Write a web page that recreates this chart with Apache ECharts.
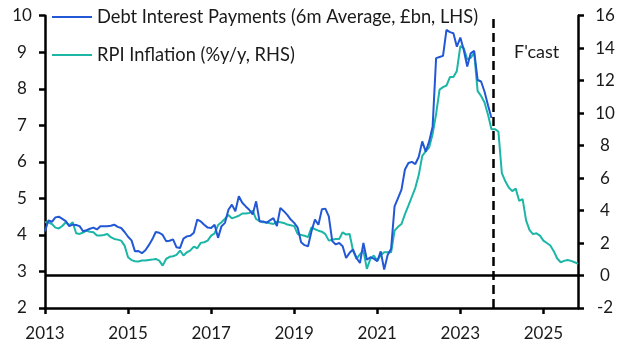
<!DOCTYPE html>
<html><head><meta charset="utf-8">
<script src="https://cdn.jsdelivr.net/npm/echarts@6/dist/echarts.min.js"></script>
<style>html,body{margin:0;padding:0;background:#fff}#c{width:629px;height:355px}</style>
</head><body><div id="c"></div>
<script>
// Monthly data, starting Jan 2013
const startYear = 2013;
const debtInterest = [4.10,4.40,4.36,4.48,4.50,4.44,4.38,4.24,4.28,4.27,4.24,4.10,
4.13,4.17,4.20,4.15,4.24,4.24,4.24,4.25,4.28,4.22,4.19,4.08,
3.95,3.85,3.55,3.56,3.50,3.58,3.72,3.88,4.08,4.06,4.00,3.83,
3.84,3.88,3.66,3.64,3.90,3.96,3.98,4.06,4.42,4.37,4.28,4.20,
4.19,4.28,3.92,4.24,4.33,4.69,4.83,4.65,5.06,4.88,4.78,4.69,
4.56,4.92,4.37,4.37,4.33,4.40,4.46,4.24,4.74,4.65,4.55,4.42,
4.33,4.20,3.80,3.72,3.69,4.10,4.42,4.28,4.70,4.72,4.51,3.83,
3.74,3.78,3.69,3.37,3.51,3.60,3.37,3.23,3.78,3.32,3.39,3.35,
3.28,3.55,3.05,3.45,3.62,4.78,5.01,5.24,5.79,5.97,6.00,5.94,
6.14,6.56,6.28,6.56,6.97,8.84,8.87,8.90,9.61,9.55,9.52,9.15,
9.40,9.06,8.61,8.97,9.04,8.24,8.20,7.92,7.55,7.20];
const rpiInflation = [3.28,3.28,3.17,2.95,2.90,3.05,3.28,3.10,3.28,2.60,2.56,2.65,
2.76,2.70,2.66,2.46,2.46,2.50,2.56,2.36,2.25,2.21,2.15,1.84,
1.13,0.95,0.88,0.86,0.92,0.92,0.96,0.98,1.02,0.92,0.61,1.02,
1.15,1.19,1.27,1.54,1.23,1.43,1.55,1.78,1.68,2.01,2.05,2.15,
2.46,2.60,3.11,3.28,3.50,3.73,3.52,3.60,3.68,3.82,3.82,3.85,
3.99,3.48,3.35,3.28,3.28,3.22,3.17,3.32,3.28,3.24,3.14,3.10,
3.04,2.56,2.50,2.45,2.36,2.97,2.85,2.76,2.70,2.55,2.15,2.20,
2.25,2.25,2.66,2.52,2.56,1.54,1.02,1.30,1.54,0.41,1.02,1.23,
0.92,1.25,1.43,1.43,1.43,2.76,3.00,3.17,3.78,4.30,4.85,5.40,
6.20,7.37,7.65,7.90,8.72,9.94,11.45,11.60,11.70,12.22,12.22,12.60,
14.13,14.00,13.31,13.40,13.72,11.36,11.06,10.65,9.90,9.01,9.01,8.87,
6.30,5.80,5.42,5.20,5.35,4.60,4.70,3.40,2.80,2.55,2.60,2.46,
2.15,2.00,1.85,1.50,1.05,0.82,0.90,0.96,0.90,0.82,0.72];
const seriesNames = ["Debt Interest Payments (6m Average, £bn, LHS)", "RPI Inflation (%y/y, RHS)"];
const forecastStartMonth = 129.5; // months since Jan 2013
const forecastLabel = "F'cast";
const lastMonth = 154;
const leftTicks = {min: 2, max: 10, interval: 1};
const rightTicks = {min: -2, max: 16, interval: 2};

const FONT = 'Lato';
const toPairs = arr => arr.map((v, i) => [i, v]);
const chart = echarts.init(document.getElementById('c'), null, {renderer: 'canvas'});
const axisLine = {show: true, lineStyle: {color: '#000', width: 2.5}};
const labelStyle = {color: '#1a1a1a', fontFamily: FONT, fontSize: 17};
chart.setOption({
  animation: false,
  grid: {left: 45, right: 51, top: 15.7, bottom: 47, containLabel: false},
  legend: {
    orient: 'vertical', left: 52, top: 8, padding: 0, icon: 'rect',
    itemWidth: 40, itemHeight: 2.2, itemGap: 20,
    textStyle: {fontFamily: FONT, fontSize: 18.3, color: '#1a1a1a'},
    data: seriesNames
  },
  xAxis: {
    type: 'value', min: 0, max: lastMonth, interval: 24,
    axisLine: Object.assign({onZero: false}, axisLine),
    axisTick: {show: true, length: 6, lineStyle: {color: '#000', width: 2.5}},
    axisLabel: Object.assign({margin: 17, formatter: v => String(startYear + v / 12)}, labelStyle),
    splitLine: {show: false}
  },
  yAxis: [
    {type: 'value', position: 'left', min: leftTicks.min, max: leftTicks.max, interval: leftTicks.interval,
     axisLine: axisLine, axisTick: {show: true, length: 6, lineStyle: {color: '#000', width: 2.5}},
     axisLabel: Object.assign({margin: 23, align: 'center'}, labelStyle), splitLine: {show: false}},
    {type: 'value', position: 'right', min: rightTicks.min, max: rightTicks.max, interval: rightTicks.interval,
     axisLine: axisLine, axisTick: {show: true, length: 6, lineStyle: {color: '#000', width: 2.5}},
     axisLabel: Object.assign({margin: 27, align: 'center'}, labelStyle), splitLine: {show: false}}
  ],
  series: [
    {name: seriesNames[0], type: 'line', yAxisIndex: 0, data: toPairs(debtInterest),
     symbol: 'none', lineStyle: {color: '#2257d6', width: 2}, itemStyle: {color: '#2257d6'}, z: 3,
     markLine: {silent: true, symbol: 'none', label: {show: false},
       lineStyle: {color: '#000', type: [9, 5], width: 2.5},
       data: [{xAxis: forecastStartMonth}]}},
    {name: seriesNames[1], type: 'line', yAxisIndex: 1, data: toPairs(rpiInflation),
     symbol: 'none', lineStyle: {color: '#1bb6a6', width: 2}, itemStyle: {color: '#1bb6a6'}, z: 2,
     markLine: {silent: true, symbol: 'none', label: {show: false},
       lineStyle: {color: '#000', type: 'solid', width: 2.5},
       data: [{yAxis: 0}]}}
  ],
  graphic: [{type: 'text', left: 514, top: 43, style: {text: forecastLabel, font: '18px ' + FONT, fill: '#1a1a1a'}}]
});
</script></body></html>
